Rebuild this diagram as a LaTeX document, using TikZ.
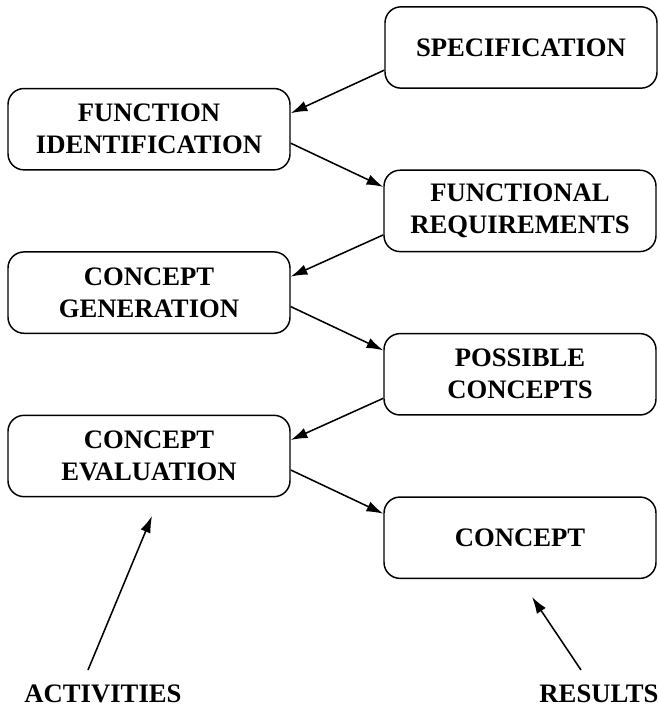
\documentclass[tikz,border=0pt]{standalone}
\usepackage{fontspec}
\setmainfont{Liberation Serif}
\usetikzlibrary{arrows.meta}
\begin{document}
\begin{tikzpicture}[x=0.75pt,y=-0.75pt,
  every node/.style={font=\fontsize{20}{24}\selectfont\bfseries},
  stagebox/.style={draw, line width=1.1pt, rounded corners=12pt, align=center,
    minimum height=61pt, inner sep=0pt},
  activitybox/.style={stagebox, minimum width=211.5pt},
  resultbox/.style={stagebox, minimum width=204pt},
  flow/.style={line width=1.15pt, -{Latex[length=12.5pt,width=8pt]}}
]
\useasboundingbox (0,0) rectangle (659,712);

% results (right column) and activities (left column)
\node[resultbox]   (spec) at (521,47.5)  {SPECIFICATION};
\node[activitybox] (fi)   at (149,129.2) {FUNCTION\\IDENTIFICATION};
\node[resultbox]   (fr)   at (520,210.9) {FUNCTIONAL\\REQUIREMENTS};
\node[activitybox] (cg)   at (149,292.6) {CONCEPT\\GENERATION};
\node[resultbox]   (pc)   at (520,374.3) {POSSIBLE\\CONCEPTS};
\node[activitybox] (ce)   at (149,456.0) {CONCEPT\\EVALUATION};
\node[resultbox]   (cc)   at (520,537.7) {CONCEPT};

% zig-zag flow between the two columns
\draw[flow] ([yshift=-17pt]spec.west) -- ([yshift=12pt]fi.east);
\draw[flow] ([yshift=-10.5pt]fi.east) -- ([yshift=18pt]fr.west);
\draw[flow] ([yshift=-18pt]fr.west) -- ([yshift=12pt]cg.east);
\draw[flow] ([yshift=-10.5pt]cg.east) -- ([yshift=18pt]pc.west);
\draw[flow] ([yshift=-18pt]pc.west) -- ([yshift=12pt]ce.east);
\draw[flow] ([yshift=-10.5pt]ce.east) -- ([yshift=18pt]cc.west);

% column captions
\node (act) at (103,694) {ACTIVITIES};
\node (res) at (599,694) {RESULTS};
\coordinate (acttail) at (88,670);
\coordinate (acttip)  at (152,516);
\coordinate (restail) at (581,670);
\coordinate (restip)  at (532,597);
\draw[flow] (acttail) -- (acttip);
\draw[flow] (restail) -- (restip);
\end{tikzpicture}
\end{document}
